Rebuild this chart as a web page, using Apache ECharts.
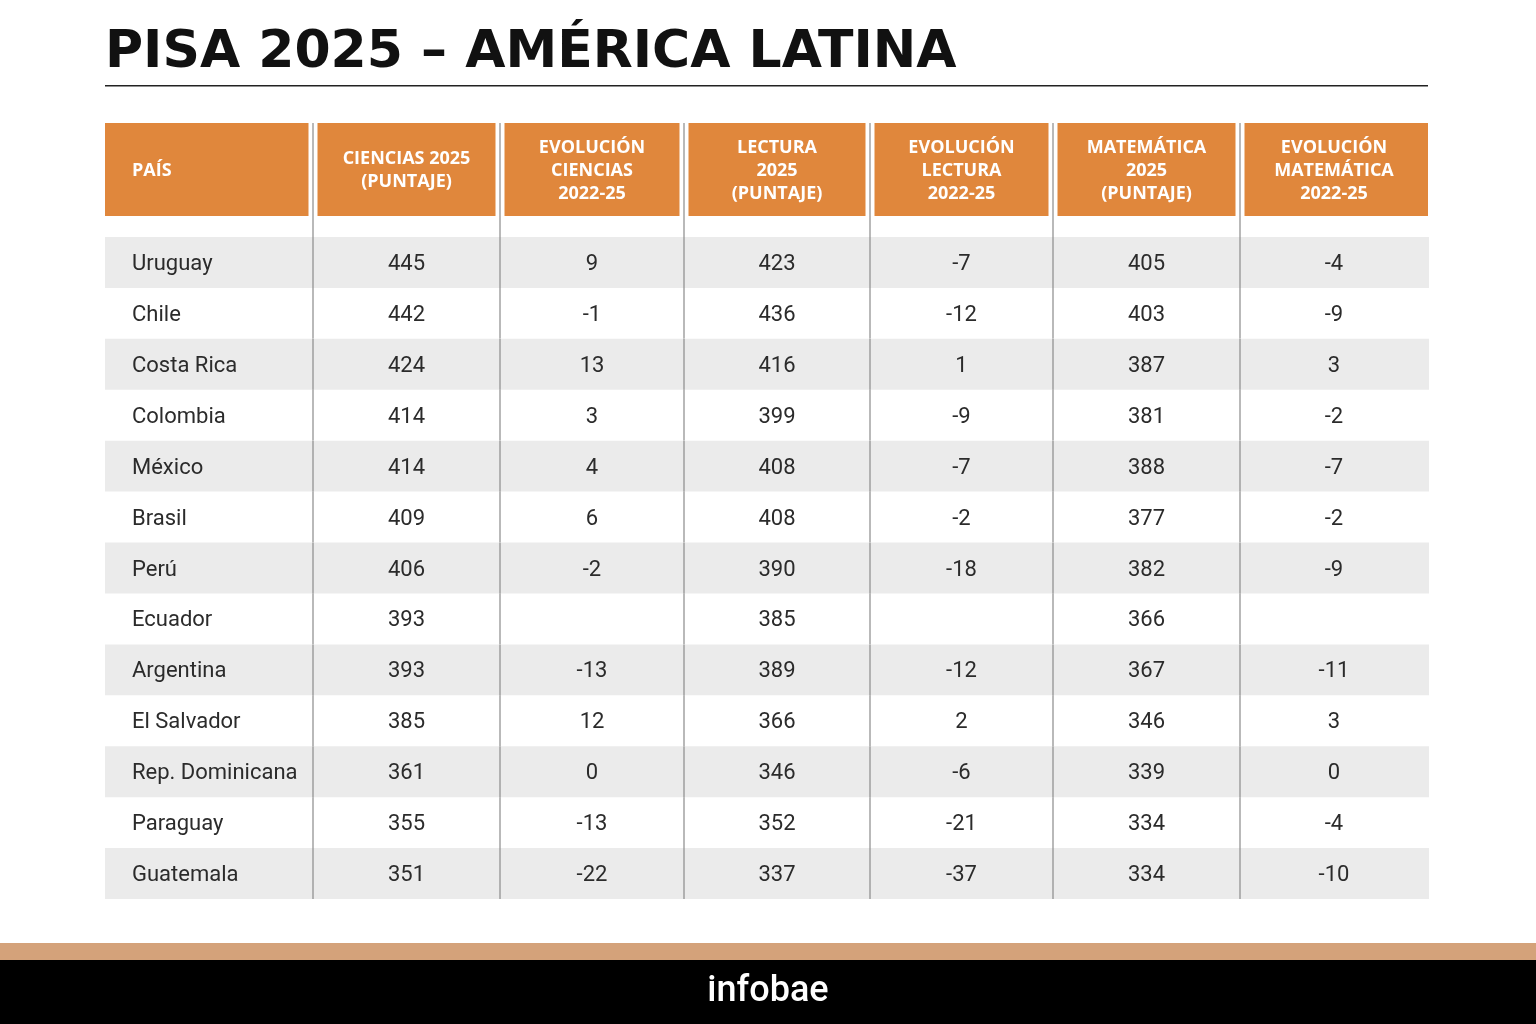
<!DOCTYPE html>
<html><head><meta charset="utf-8">
<script src="https://cdn.jsdelivr.net/npm/echarts@6/dist/echarts.min.js"></script>
<style>html,body{margin:0;padding:0;background:#fff}#c{width:1536px;height:1024px}</style>
</head><body><div id="c"></div>
<script>
const headers = ['PAÍS','CIENCIAS 2025\n(PUNTAJE)','EVOLUCIÓN\nCIENCIAS\n2022-25','LECTURA\n2025\n(PUNTAJE)','EVOLUCIÓN\nLECTURA\n2022-25','MATEMÁTICA\n2025\n(PUNTAJE)','EVOLUCIÓN\nMATEMÁTICA\n2022-25'];
const countries = ['Uruguay','Chile','Costa Rica','Colombia','México','Brasil','Perú','Ecuador','Argentina','El Salvador','Rep. Dominicana','Paraguay','Guatemala'];
const ciencias = [445,442,424,414,414,409,406,393,393,385,361,355,351];
const evoCiencias = [9,-1,13,3,4,6,-2,null,-13,12,0,-13,-22];
const lectura = [423,436,416,399,408,408,390,385,389,366,346,352,337];
const evoLectura = [-7,-12,1,-9,-7,-2,-18,null,-12,2,-6,-21,-37];
const matematica = [405,403,387,381,388,377,382,366,367,346,339,334,334];
const evoMatematica = [-4,-9,3,-2,-7,-2,-9,null,-11,3,0,-4,-10];

const columns = [countries,ciencias,evoCiencias,lectura,evoLectura,matematica,evoMatematica];
const weights = [208,187,184,186,183,187,188];
const edges = [0]; weights.forEach(w=>edges.push(edges[edges.length-1]+w));
const total = edges[edges.length-1];

const bodyData = [];
countries.forEach((c,r)=>columns.forEach((col,ci)=>bodyData.push([ci,r,col[r]==null?'':String(col[r])])));
const headData = headers.map((h,i)=>[i,0,h]);

function renderBody(params, api){
  const ci = api.value(0), r = api.value(1), txt = api.value(2);
  const x0 = api.coord([edges[ci], r])[0], x1 = api.coord([edges[ci+1], r])[0];
  const bh = api.size([0,1])[1];
  const yc = api.coord([0, r])[1];
  const children = [];
  if (r % 2 === 0) children.push({type:'rect',shape:{x:x0,y:yc-bh/2,width:x1-x0+1,height:bh},style:{fill:'#ebebeb'}});
  if (ci > 0) children.push({type:'line',shape:{x1:x0,y1:yc-bh/2,x2:x0,y2:yc+bh/2},style:{stroke:'#8a8a8a',lineWidth:1.2}});
  children.push({type:'text',style:{text:txt,x:ci===0?x0+27:(x0+x1)/2,y:yc+2,align:ci===0?'left':'center',verticalAlign:'middle',font:'22px Roboto',fill:'#2b2b2b'}});
  return {type:'group',children};
}
function renderHead(params, api){
  const ci = api.value(0), txt = api.value(2);
  const x0 = api.coord([edges[ci], 0])[0], x1 = api.coord([edges[ci+1], 0])[0];
  const bh = api.size([0,1])[1];
  const yc = api.coord([0, 0])[1];
  const g = 4.5;
  const children = [];
  const left = ci===0 ? x0 : x0+g, right = ci===6 ? x1 : x1-g;
  children.push({type:'rect',shape:{x:left,y:yc-bh/2,width:right-left,height:bh},style:{fill:'#e0873c'}});
  if (ci > 0) children.push({type:'line',shape:{x1:x0,y1:yc-bh/2,x2:x0,y2:yc+bh/2+21},style:{stroke:'#8a8a8a',lineWidth:1.2}});
  children.push({type:'text',style:{text:txt,x:ci===0?x0+27:(x0+x1)/2,y:yc+1,align:ci===0?'left':'center',verticalAlign:'middle',font:'bold 18px "Open Sans"',lineHeight:23,fill:'#fff'}});
  return {type:'group',children};
}

const chart = echarts.init(document.getElementById('c'));
chart.setOption({
  animation:false,
  grid:[{left:105,right:108,top:237,bottom:125},{left:105,right:108,top:123,height:93}],
  xAxis:[{type:'value',min:0,max:total,show:false,gridIndex:0},{type:'value',min:0,max:total,show:false,gridIndex:1}],
  yAxis:[{type:'category',data:countries,inverse:true,show:false,gridIndex:0},{type:'category',data:['h'],show:false,gridIndex:1}],
  series:[
    {type:'custom',xAxisIndex:0,yAxisIndex:0,data:bodyData,renderItem:renderBody},
    {type:'custom',xAxisIndex:1,yAxisIndex:1,data:headData,renderItem:renderHead}
  ],
  graphic:[
    {type:'text',x:105,y:53,style:{text:'PISA 2025 – AMÉRICA LATINA',font:'bold 52px "DejaVu Sans"',fill:'#111',verticalAlign:'middle'}},
    {type:'rect',shape:{x:105,y:85,width:1323,height:1.5},style:{fill:'#222'}},
    {type:'rect',shape:{x:0,y:943,width:1536,height:17},style:{fill:'#d4a27a'}},
    {type:'rect',shape:{x:0,y:960,width:1536,height:64},style:{fill:'#000'}},
    {type:'text',x:768,y:992,style:{text:'infobae',font:'500 36px Roboto',fill:'#fff',align:'center',verticalAlign:'middle'}}
  ]
});
</script></body></html>
